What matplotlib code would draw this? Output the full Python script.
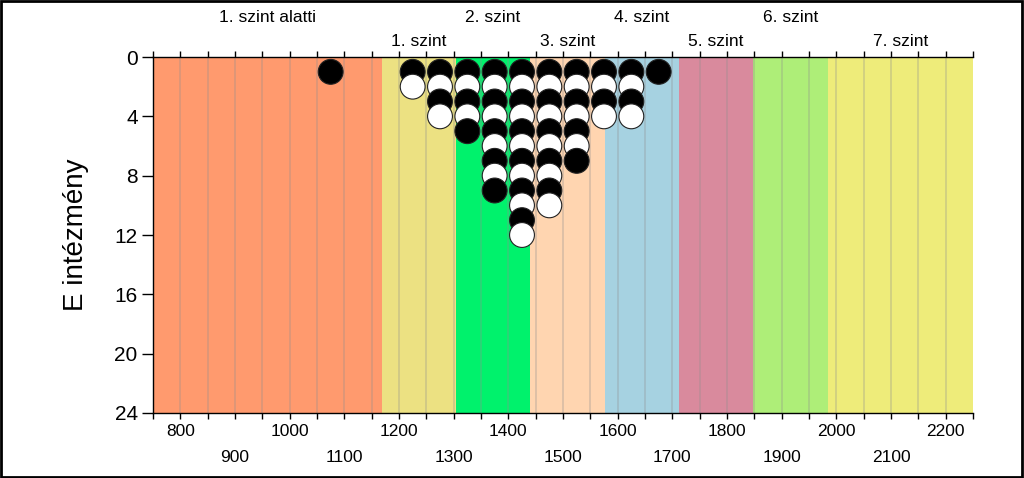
import matplotlib
matplotlib.use("Agg")
import matplotlib.pyplot as plt
from matplotlib.patches import Rectangle
import numpy as np

plt.rcParams['font.family'] = ['Liberation Sans', 'DejaVu Sans']

# Data
band_edges = [750, 1168, 1304, 1440, 1576, 1712, 1848, 1984, 2250]
band_names = ["1. szint alatti", "1. szint", "2. szint", "3. szint",
              "4. szint", "5. szint", "6. szint", "7. szint"]
band_colors = ["#FF9A6E", "#ECE182", "#00F26C", "#FFD5B0",
               "#A6D2E1", "#D98A9D", "#AEEE78", "#EEEC7A"]
bin_centers = [1075, 1225, 1275, 1325, 1375, 1425, 1475, 1525, 1575, 1625, 1675]
bin_counts = [1, 2, 4, 5, 9, 12, 10, 7, 4, 4, 1]
xticks_row1 = [800, 1000, 1200, 1400, 1600, 1800, 2000, 2200]
xticks_row2 = [900, 1100, 1300, 1500, 1700, 1900, 2100]
yticks = [0, 4, 8, 12, 16, 20, 24]

fig = plt.figure(figsize=(10.24, 4.78), dpi=100)
ax = fig.add_axes([153/1024, 1-413/478, (973-153)/1024, (413-57)/478])

for i, name in enumerate(band_names):
    ax.axvspan(band_edges[i], band_edges[i+1], color=band_colors[i], zorder=0, lw=0)

for gx in range(800, 2250, 50):
    ax.axvline(gx, color='#8f8f8f', alpha=0.32, lw=1.3, zorder=1)

# build stacked points
xs, ys, cs = [], [], []
for x, n in zip(bin_centers, bin_counts):
    for k in range(1, n+1):
        xs.append(x); ys.append(k)
        cs.append('black' if k % 2 == 1 else 'white')
order = np.argsort(ys, kind='stable')
xs = np.array(xs)[order]; ys = np.array(ys)[order]; cs = np.array(cs)[order]
ax.scatter(xs, ys, s=320, c=list(cs), edgecolors='#222222', linewidths=0.8, zorder=3, clip_on=False)

ax.set_xlim(750, 2250)
ax.set_ylim(24, 0)
ax.set_yticks(yticks)
ax.tick_params(axis='y', labelsize=15, length=8, width=1, direction='out', pad=3)

ax.set_xticks(xticks_row1)
ax.set_xticks(np.arange(750, 2251, 50), minor=True)
ax.tick_params(axis='x', which='major', labelsize=12.5, length=4, width=1, pad=4,
               top=True, direction='out')
ax.tick_params(axis='x', which='minor', length=4, width=1, top=True, direction='out')

sec = ax.secondary_xaxis('bottom')
sec.set_xticks(xticks_row2)
sec.tick_params(axis='x', length=0, labelsize=12.5, pad=27)
sec.spines['bottom'].set_visible(False)

ax.spines['right'].set_visible(False)
for s in ['left', 'top', 'bottom']:
    ax.spines[s].set_linewidth(1.0)

ax.set_ylabel("E intézmény", fontsize=20, labelpad=18)

trans = ax.get_xaxis_transform()
for i, name in enumerate(band_names):
    cx = (band_edges[i] + band_edges[i+1]) / 2
    yfrac = 1 + (40/356) if i % 2 == 0 else 1 + (16/356)
    ax.text(cx, yfrac, name, transform=trans, ha='center', va='center', fontsize=12.5)

fig.patches.append(Rectangle((0.001, 0.002), 0.997, 0.995, transform=fig.transFigure,
                             fill=False, edgecolor='black', linewidth=2))

fig.savefig("out.png", dpi=100)
